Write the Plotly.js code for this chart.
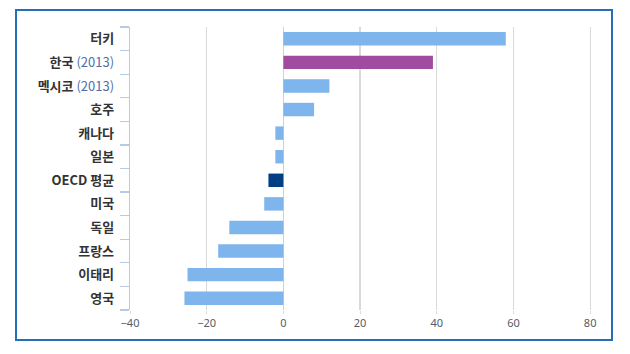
<!DOCTYPE html>
<html>
<head>
<meta charset="utf-8">
<script src="https://cdn.plot.ly/plotly-3.0.1.min.js"></script>
<style>
  html, body { margin: 0; padding: 0; background: #fff; }
  #wrap { position: relative; width: 630px; height: 354px; }
  #chart { position: absolute; left: 0; top: 0; width: 630px; height: 354px; }
  #frame { position: absolute; left: 15px; top: 9px; width: 594px; height: 328px;
           border: 2px solid #2470b8; pointer-events: none; }
</style>
</head>
<body>
<div id="wrap">
  <div id="chart"></div>
  <div id="frame"></div>
</div>
<script>
const categories = ["터키", "한국", "멕시코", "호주", "캐나다", "일본", "OECD 평균", "미국", "독일", "프랑스", "이태리", "영국"];
const yearNotes  = ["", "(2013)", "(2013)", "", "", "", "", "", "", "", "", ""];
const values     = [58, 39, 12, 8, -2.1, -2.1, -3.9, -5, -14.1, -17, -25, -25.8];
const barColors  = ["#7db5ec", "#a04b9f", "#7db5ec", "#7db5ec", "#7db5ec", "#7db5ec", "#003f83", "#7db5ec", "#7db5ec", "#7db5ec", "#7db5ec", "#7db5ec"];
const xTicks     = [-40, -20, 0, 20, 40, 60, 80];

const labels = categories.map((c, i) =>
  "<b>" + c + "</b>" + (yearNotes[i] ? " <span style='color:#4f6fa8;font-weight:normal'>" + yearNotes[i] + "</span>" : "")
);
const n = categories.length;
const boundaries = Array.from({ length: n + 1 }, (_, i) => i - 0.5);

const trace = {
  type: "bar",
  orientation: "h",
  y: labels,
  x: values,
  marker: { color: barColors },
  hoverinfo: "x+y"
};
const tickHolder = {
  type: "scatter",
  mode: "markers",
  x: [],
  y: [],
  yaxis: "y2",
  hoverinfo: "skip",
  showlegend: false
};

const layout = {
  width: 630,
  height: 354,
  margin: { l: 130, r: 36, t: 27, b: 44 },
  paper_bgcolor: "rgba(0,0,0,0)",
  plot_bgcolor: "#ffffff",
  bargap: 0.43,
  showlegend: false,
  font: { family: "Noto Sans CJK KR, Noto Sans, sans-serif", color: "#404040" },
  xaxis: {
    range: [-40, 81],
    tickvals: xTicks,
    ticktext: xTicks.map(v => v < 0 ? "\u2212" + Math.abs(v) : String(v)),
    showgrid: true,
    gridcolor: "#d9d9d9",
    gridwidth: 1.3,
    zeroline: true,
    zerolinecolor: "#d0d0d0",
    zerolinewidth: 1.3,
    showline: false,
    ticks: "outside",
    ticklen: 3,
    tickcolor: "#d9d9d9",
    tickfont: { family: "Noto Sans, sans-serif", size: 11, color: "#555b66" },
    fixedrange: true
  },
  yaxis: {
    type: "category",
    autorange: "reversed",
    ticks: "",
    ticklabelstandoff: 12,
    showline: true,
    linecolor: "#b8cbe6",
    linewidth: 1.3,
    showgrid: false,
    zeroline: false,
    tickfont: { family: "Noto Sans CJK KR, sans-serif", size: 13, color: "#333333" },
    fixedrange: true
  },
  yaxis2: {
    overlaying: "y",
    anchor: "x",
    side: "left",
    range: [n - 0.5, -0.5],
    autorange: false,
    tickmode: "array",
    tickvals: boundaries,
    showticklabels: false,
    ticks: "outside",
    ticklen: 9,
    tickcolor: "#b8cbe6",
    tickwidth: 1.2,
    showline: false,
    showgrid: false,
    zeroline: false,
    fixedrange: true
  }
};

Plotly.newPlot("chart", [trace, tickHolder], layout, { displayModeBar: false, staticPlot: true });
</script>
</body>
</html>
